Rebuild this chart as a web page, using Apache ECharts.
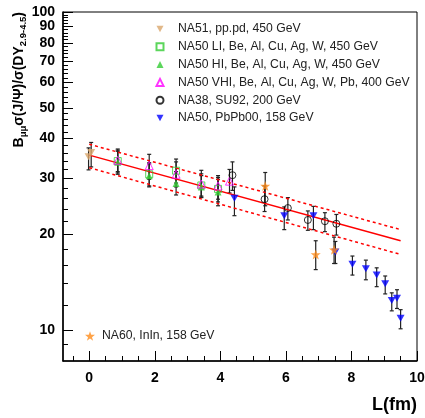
<!DOCTYPE html>
<html>
<head>
<meta charset="utf-8">
<script src="https://cdn.jsdelivr.net/npm/echarts@6/dist/echarts.min.js"></script>
<style>
html,body{margin:0;padding:0;background:#fff}
#chart{width:425px;height:418px}
</style>
</head>
<body>
<div id="chart"></div>
<script>
// each point: [L (fm), ratio, error low, error high]
var na51 = [[-0.02, 35.1, 31.9, 37.4], [0.06, 36.2, 32.6, 38.9]];
var na50LI = [[0.87, 34.0, 31.2, 36.8], [1.83, 30.9, 28.4, 33.6], [2.65, 31.7, 29.0, 34.5],
              [3.42, 28.5, 26.2, 31.0], [3.93, 27.8, 25.3, 30.2]];
var na50HI = [[0.87, 33.7, 30.9, 36.5], [1.83, 30.6, 28.2, 33.3], [2.65, 28.9, 26.6, 31.5],
              [3.42, 28.2, 26.1, 30.6], [3.93, 27.2, 24.6, 29.8]];
var na50VHI = [[0.87, 34.2, 31.5, 37.1], [1.83, 32.9, 29.8, 35.7], [2.65, 30.9, 28.2, 33.8],
               [3.42, 28.8, 26.4, 31.8], [3.93, 28.4, 25.8, 30.6], [4.28, 29.4, 27.0, 32.0]];
var na38 = [[4.37, 30.7, 27.5, 33.8], [5.35, 25.8, 23.6, 28.4], [6.06, 24.2, 22.2, 26.1],
            [6.67, 22.2, 20.6, 23.7], [7.19, 22.0, 20.4, 23.4], [7.54, 21.6, 19.9, 23.1]];
var na50PbPb = [[4.43, 26.0, 22.9, 28.2], [5.95, 22.9, 20.7, 24.4], [6.84, 22.9, 20.7, 24.5],
                [7.51, 17.6, 16.2, 19.0], [8.03, 16.1, 14.9, 17.1], [8.44, 15.6, 14.4, 16.6],
                [8.77, 14.9, 13.7, 15.7], [9.03, 14.0, 13.0, 14.8], [9.23, 12.4, 11.5, 13.1],
                [9.39, 12.6, 11.7, 13.4], [9.50, 10.9, 10.1, 11.6]];
var na60 = [[5.37, 28.4, 24.6, 31.3], [6.91, 17.3, 15.5, 19.1], [7.47, 17.9, 16.2, 19.6]];

var fitL = [0, 9.5];
var fitMid = [35.5, 19.1];
var fitUp = [38.4, 20.7];
var fitDown = [32.4, 17.3];

var xMajor = [0, 2, 4, 6, 8, 10];
var xMinor = [-0.5, 0.5, 1, 1.5, 2.5, 3, 3.5, 4.5, 5, 5.5, 6.5, 7, 7.5, 8.5, 9, 9.5];
var yMajor = [10, 20, 30, 40, 50, 60, 70, 80, 90, 100];
var yMinor = [9, 12, 14, 16, 18, 22, 24, 26, 28, 32, 34, 36, 38, 42, 44, 46, 48,
              52, 54, 56, 58, 62, 64, 66, 68, 72, 74, 76, 78, 82, 84, 86, 88, 92, 94, 96, 98];

var names = ['NA51, pp.pd, 450 GeV', 'NA50 LI, Be, Al, Cu, Ag, W, 450 GeV',
             'NA50 HI, Be, Al, Cu, Ag, W, 450 GeV', 'NA50 VHI, Be, Al, Cu, Ag, W, Pb, 400 GeV',
             'NA38, SU92, 200 GeV', 'NA50, PbPb00, 158 GeV', 'NA60, InIn, 158 GeV'];

var FONT = 'Liberation Sans, Arial, sans-serif';
var downTri = 'path://M0,0L10,0L5,9Z';
var star = 'path://M5,0L6.18,3.38L9.76,3.45L6.9,5.62L7.94,9.05L5,7L2.06,9.05L3.1,5.62L0.24,3.45L3.82,3.38Z';

function points(list) {
    return list.map(function (p) { return [p[0], p[1]]; });
}

function errorBars(list) {
    return {
        type: 'custom',
        silent: true,
        z: 2,
        data: list.map(function (p) { return [p[0], p[2], p[3]]; }),
        encode: {x: 0, y: [1, 2]},
        renderItem: function (params, api) {
            var lo = api.coord([api.value(0), api.value(1)]);
            var hi = api.coord([api.value(0), api.value(2)]);
            var st = {stroke: '#222', lineWidth: 1.2};
            return {
                type: 'group',
                children: [
                    {type: 'line', shape: {x1: lo[0], y1: lo[1], x2: hi[0], y2: hi[1]}, style: st},
                    {type: 'line', shape: {x1: lo[0] - 2, y1: lo[1], x2: lo[0] + 2, y2: lo[1]}, style: st},
                    {type: 'line', shape: {x1: hi[0] - 2, y1: hi[1], x2: hi[0] + 2, y2: hi[1]}, style: st}
                ]
            };
        }
    };
}

function marks(name, list, symbol, size, style) {
    return {
        name: name,
        type: 'scatter',
        z: 4,
        symbol: symbol,
        symbolSize: size,
        itemStyle: style,
        data: points(list)
    };
}

function fitLine(ys, dashed) {
    return {
        type: 'line',
        z: 3,
        silent: true,
        symbol: 'none',
        lineStyle: {color: '#ff0000', width: 1.5, type: dashed ? [3, 3] : 'solid'},
        data: fitL.map(function (l, i) { return [l, ys[i]]; })
    };
}

function legendText(pad) {
    return {
        formatter: function (n) { return '{t|' + n + '}'; },
        textStyle: {rich: {t: {fontSize: 12.2, fontFamily: FONT, color: '#222', lineHeight: 14, padding: [0, 0, 0, pad]}}}
    };
}

var legendMain = legendText(9.5);
var legendNA60 = legendText(2);

var chart = echarts.init(document.getElementById('chart'));
chart.setOption({
    animation: false,
    backgroundColor: '#fff',
    grid: {left: 63, right: 8, top: 12, bottom: 57, show: true, borderColor: '#000', borderWidth: 1,
           outerBoundsMode: 'none'},
    legend: [{
        data: names.slice(0, 6),
        orient: 'vertical',
        left: 155.5, top: 23, padding: 0,
        itemWidth: 7, itemHeight: 7, itemGap: 5.8,
        selectedMode: false,
        formatter: legendMain.formatter,
        textStyle: legendMain.textStyle
    }, {
        data: [names[6]],
        left: 85, top: 330, padding: 0,
        itemWidth: 10, itemHeight: 10,
        selectedMode: false,
        formatter: legendNA60.formatter,
        textStyle: legendNA60.textStyle
    }],
    xAxis: [{
        type: 'value', min: -0.8, max: 10, position: 'bottom',
        axisLine: {onZero: false, lineStyle: {color: '#000', width: 1.5}},
        axisTick: {inside: true, length: 10, customValues: xMajor, lineStyle: {color: '#000'}},
        axisLabel: {customValues: xMajor, margin: 10, fontSize: 14, fontWeight: 'bold', color: '#000', fontFamily: FONT},
        splitLine: {show: false}
    }, {
        type: 'value', min: -0.8, max: 10, position: 'bottom',
        axisLine: {show: false, onZero: false},
        axisTick: {inside: true, length: 5, customValues: xMinor, lineStyle: {color: '#000'}},
        axisLabel: {show: false},
        splitLine: {show: false}
    }],
    yAxis: [{
        type: 'log', min: 8, max: 100, position: 'left',
        axisLine: {onZero: false, lineStyle: {color: '#000', width: 1.5}},
        axisTick: {inside: true, length: 10, customValues: yMajor, lineStyle: {color: '#000'}},
        axisLabel: {customValues: yMajor, margin: 8, fontSize: 14, fontWeight: 'bold', color: '#000', fontFamily: FONT},
        splitLine: {show: false}
    }, {
        type: 'log', min: 8, max: 100, position: 'left',
        axisLine: {show: false, onZero: false},
        axisTick: {inside: true, length: 5, customValues: yMinor, lineStyle: {color: '#000'}},
        axisLabel: {show: false},
        splitLine: {show: false}
    }],
    graphic: [{
        type: 'text',
        x: 19, y: 12,
        rotation: Math.PI / 2,
        style: {
            text: 'B{s|μμ}σ(J/Ψ)/σ(DY{s|2.9-4.5})',
            align: 'right',
            verticalAlign: 'middle',
            fontSize: 14,
            fontWeight: 'bold',
            fontFamily: FONT,
            fill: '#000',
            rich: {s: {fontSize: 9.5, fontWeight: 'bold', fontFamily: FONT, verticalAlign: 'bottom', padding: [8, 0, 0, 0]}}
        }
    }, {
        type: 'text',
        x: 417, y: 405,
        style: {text: 'L(fm)', align: 'right', verticalAlign: 'middle', fontSize: 18, fontWeight: 'bold', fontFamily: FONT, fill: '#000'}
    }],
    series: [
        fitLine(fitMid, false), fitLine(fitUp, true), fitLine(fitDown, true),
        errorBars(na51), errorBars(na50LI), errorBars(na50HI), errorBars(na50VHI),
        errorBars(na38), errorBars(na50PbPb), errorBars(na60),
        marks(names[0], na51, downTri, [8, 7], {color: '#d9a66b'}),
        marks(names[1], na50LI, 'rect', 7, {color: 'rgba(0,0,0,0)', borderColor: '#33cc33', borderWidth: 1}),
        marks(names[2], na50HI, 'triangle', 7, {color: '#33cc33'}),
        marks(names[3], na50VHI, 'triangle', 8, {color: 'rgba(0,0,0,0)', borderColor: '#ff00ff', borderWidth: 1}),
        marks(names[4], na38, 'circle', 7, {color: 'rgba(0,0,0,0)', borderColor: '#000', borderWidth: 1}),
        marks(names[5], na50PbPb, downTri, [8, 7], {color: '#0000ff'}),
        marks(names[6], na60, star, 10, {color: '#ff8c1a'})
    ]
});
</script>
</body>
</html>
